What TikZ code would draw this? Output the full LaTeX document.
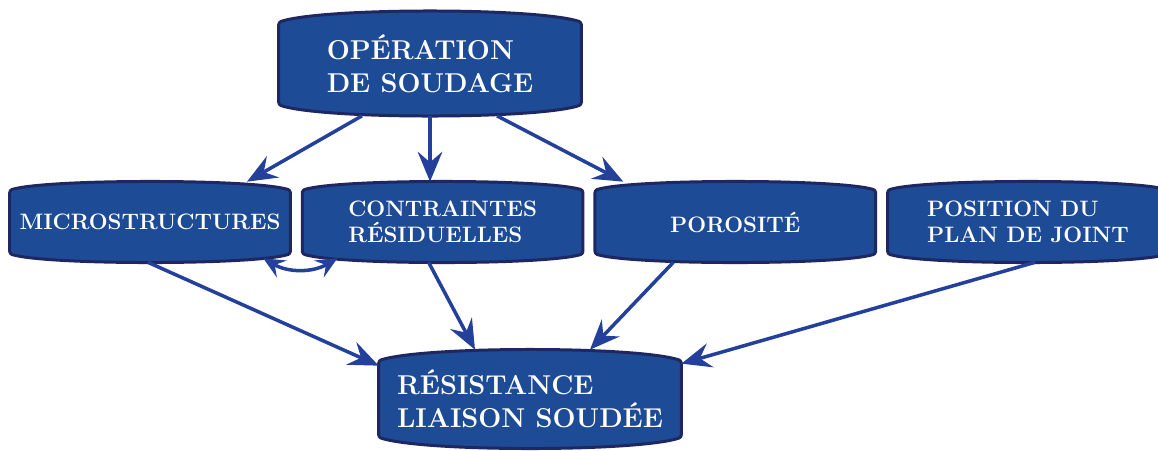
\documentclass[tikz,border=0pt]{standalone}
\usepackage{xcolor}
\usetikzlibrary{arrows.meta, positioning, calc, backgrounds}

\definecolor{boxfill}{HTML}{1E4B96}
\definecolor{boxline}{HTML}{1F2762}
\definecolor{arrowblue}{HTML}{23409A}

\begin{document}
\begin{tikzpicture}[
x=0.02cm, y=0.02cm,
node distance=0.24cm,
>={Stealth[length=17pt, width=14pt, inset=6pt]},
bigbox/.style={rectangle, inner sep=0pt, minimum width=6.04cm, minimum height=2.08cm, text=white, align=left, font=\fontsize{15.5}{18.8}\selectfont\bfseries},
smallbox/.style={rectangle, inner sep=0pt, minimum width=5.6cm, minimum height=1.6cm, text=white, align=left, font=\fontsize{12.7}{14.8}\selectfont\bfseries},
shell/.style={fill=boxfill, draw=boxline, line width=1.7pt, line join=round, rounded corners=0.05cm},
link/.style={->, draw=arrowblue, line width=2pt}
]
\useasboundingbox (0,0) rectangle (1158,-450);

\node[bigbox] (op) at (430,-63.5) {OPÉRATION\\DE SOUDAGE};
\node[smallbox] (micro) at (150,-222) {MICROSTRUCTURES};
\node[smallbox, right=of micro] (contr) {CONTRAINTES\\RÉSIDUELLES};
\node[smallbox, right=of contr] (poro) {POROSITÉ};
\node[smallbox, right=of poro] (pos) {POSITION DU\\PLAN DE JOINT};
\node[bigbox, minimum height=1.96cm] (res) at (530,-399) {RÉSISTANCE\\LIAISON SOUDÉE};

% bulged outlines behind the texts: \b = bulge, \c = control height, \d = control shift
\begin{scope}[on background layer]
\foreach \n/\b/\c/\d in {op/0.22/0.073/0.9, res/0.22/0.073/0.9, micro/0.17/0.057/0.75,
                         contr/0.17/0.057/0.75, poro/0.17/0.057/0.75, pos/0.17/0.057/0.75}
  \path[shell] ([yshift=-\b cm]\n.north west)
    .. controls ([xshift=\d cm, yshift=\c cm]\n.north west) and ([xshift=-\d cm, yshift=\c cm]\n.north east)
    .. ([yshift=-\b cm]\n.north east) -- ([yshift=\b cm]\n.south east)
    .. controls ([xshift=-\d cm, yshift=-\c cm]\n.south east) and ([xshift=\d cm, yshift=-\c cm]\n.south west)
    .. ([yshift=\b cm]\n.south west) -- cycle;
\end{scope}

\draw[link] ($(op.south)+(-68,0)$) -- ($(micro.north)+(97,0)$);
\draw[link] (op.south) -- (op.south |- contr.north);
\draw[link] ($(op.south)+(67,0)$) -- ($(poro.north)+(-112,0)$);
\draw[link] ($(micro.south)+(-2,0)$) -- ($(res.north west)+(0,-16)$);
\draw[link] ($(contr.south)+(-14,0)$) -- ($(res.north)+(-55,0)$);
\draw[link] ($(poro.south)+(-62,0)$) -- ($(res.north)+(60,0)$);
\draw[link] ($(pos.south)+(7,0)$) -- ($(res.north east)+(0,-14)$);
\draw[link, {Stealth[length=12pt, width=11pt, inset=4.5pt]}-{Stealth[length=12pt, width=11pt, inset=4.5pt]}]
  ($(micro.south east)+(-27,4)$) to[bend right=30] ($(contr.south west)+(35,4)$);

\end{tikzpicture}
\end{document}
